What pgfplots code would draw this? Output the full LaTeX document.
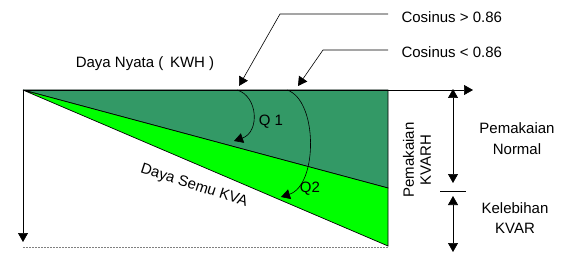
\documentclass[border=0pt]{standalone}
\usepackage{pgfplots}
\pgfplotsset{compat=1.18}
\usepackage{fontspec}
\setmainfont{Liberation Sans}
\usetikzlibrary{arrows.meta}
\definecolor{darkg}{RGB}{51,153,102}
\definecolor{lightg}{RGB}{0,255,0}
\begin{document}
\begin{tikzpicture}[font=\fontsize{15}{20.5}\selectfont,
  tri/.style={-{Triangle[length=9pt,width=10pt]}},
  tri2/.style={{Triangle[length=9pt,width=10pt]}-{Triangle[length=9pt,width=10pt]}}]
\begin{axis}[width=563pt,height=254pt,scale only axis,
  xmin=0,xmax=563,ymin=0,ymax=254,y dir=reverse,
  axis lines=none,clip=false]
\path (rel axis cs:0,0) rectangle (rel axis cs:1,1);
% shaded triangles
\addplot[fill=darkg,draw=black,line width=0.7pt] coordinates {(23,90)(388,90)(388,188)(23,90)};
\addplot[fill=lightg,draw=black,line width=0.7pt] coordinates {(23,90)(388,188)(388,246)(23,90)};
% axes arrows
\addplot[black,line width=0.7pt,tri] coordinates {(23,90)(473,90)};
\addplot[black,line width=0.7pt,tri] coordinates {(23,90)(23,242)};
% dashed base line
\addplot[gray,line width=0.8pt,dash pattern=on 2pt off 1pt] coordinates {(23,247)(388,247)};
% right-hand arrows
\addplot[black,line width=0.7pt,tri2] coordinates {(453,89)(453,183)};
\addplot[black,line width=0.7pt] coordinates {(440,191)(466,191)};
\addplot[black,line width=0.7pt,tri2] coordinates {(453,196)(453,252)};
% leader lines
\addplot[black,line width=0.6pt,tri] coordinates {(388,14)(280,14)(239,86)};
\addplot[black,line width=0.6pt,tri] coordinates {(388,50)(323,50)(298,86)};
% angle arcs
\draw[black,line width=0.6pt,tri] (axis cs:237,90) .. controls (axis cs:258,96) and (axis cs:260,132) .. (axis cs:234,141);
\draw[black,line width=0.6pt,tri] (axis cs:287,90) .. controls (axis cs:318,100) and (axis cs:318,185) .. (axis cs:281,197);
% texts
\node at (axis cs:145,64) {Daya Nyata (\,\ KWH )};
\node[anchor=west] at (axis cs:398,17.5) {Cosinus > 0.86};
\node[anchor=west] at (axis cs:398,52.5) {Cosinus < 0.86};
\node at (axis cs:271,122) {Q 1};
\node at (axis cs:310,189) {Q2};
\node[rotate=-18] at (axis cs:194,186) {Daya Semu KVA};
\node[rotate=90,align=center,font=\fontsize{15}{17}\selectfont] at (axis cs:417,160) {Pemakaian\\KVARH};
\node[align=center] at (axis cs:517,138.5) {Pemakaian\\Normal};
\node[align=center] at (axis cs:515,218) {Kelebihan\\KVAR};
\end{axis}
\end{tikzpicture}
\end{document}
